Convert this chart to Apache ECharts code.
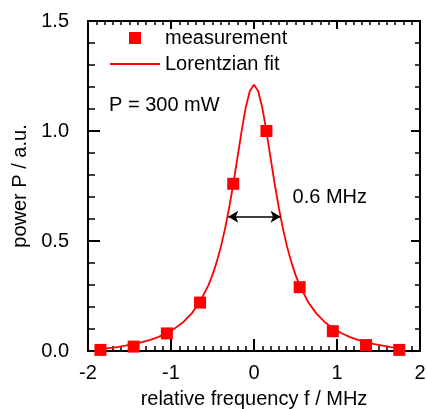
<!DOCTYPE html>
<html>
<head>
<meta charset="utf-8">
<script src="https://cdn.jsdelivr.net/npm/echarts@6/dist/echarts.min.js"></script>
<style>
  html, body { margin: 0; padding: 0; background: #fff; }
  #chart { width: 427px; height: 409px; }
</style>
</head>
<body>
<div id="chart"></div>
<script>
// measured points
var measX = [-1.85, -1.45, -1.05, -0.65, -0.25, 0.15, 0.55, 0.95, 1.35, 1.75];
var measY = [0.005, 0.02, 0.08, 0.22, 0.76, 1.00, 0.29, 0.09, 0.027, 0.005];

// Lorentzian fit curve
var fitX = [-1.85, -1.75, -1.65, -1.55, -1.45, -1.35, -1.25, -1.15, -1.05, -0.95, -0.85, -0.75, -0.65, -0.55,
            -0.5, -0.45, -0.4, -0.35, -0.3, -0.25, -0.2, -0.15, -0.1, -0.05, 0,
            0.05, 0.1, 0.15, 0.2, 0.25, 0.3, 0.35, 0.4, 0.45, 0.5,
            0.55, 0.65, 0.75, 0.85, 0.95, 1.05, 1.15, 1.25, 1.35, 1.45, 1.55, 1.65, 1.75, 1.8];
var fitY = [0.008, 0.013, 0.018, 0.024, 0.031, 0.040, 0.051, 0.064, 0.082, 0.104, 0.132, 0.171, 0.224, 0.298,
            0.346, 0.404, 0.472, 0.554, 0.649, 0.758, 0.877, 0.998, 1.106, 1.182, 1.21,
            1.182, 1.106, 0.998, 0.877, 0.758, 0.649, 0.554, 0.472, 0.404, 0.346,
            0.298, 0.224, 0.171, 0.132, 0.104, 0.082, 0.064, 0.051, 0.040, 0.031, 0.024, 0.018, 0.013, 0.010];

// FWHM arrow and annotations
var fwhmX = [-0.31, 0.32];
var fwhmY = 0.61;
var fwhmLabel = [0.465, 0.70];
var powerLabel = [-1.747, 1.118];

var FONT = '"Liberation Sans", Arial, Helvetica, sans-serif';
var RED = '#ff0000';

function zip(xs, ys) {
    return xs.map(function (x, i) { return [x, ys[i]]; });
}

function axisBase(extra) {
    var base = {
        type: 'value',
        splitLine: { show: false },
        axisLine: { show: true, onZero: false, lineStyle: { color: '#000', width: 2 } },
        axisTick: { show: true, inside: true, length: 12, lineStyle: { color: '#000', width: 2 } },
        minorTick: { show: true, length: 5, lineStyle: { color: '#000', width: 1.5 } },
        axisLabel: { color: '#000', fontSize: 20, fontFamily: FONT }
    };
    return Object.assign(base, extra);
}

var chart = echarts.init(document.getElementById('chart'));

var options = {
    animation: false,
    backgroundColor: '#fff',
    textStyle: { fontFamily: FONT },
    grid: {
        left: 88, right: 7, top: 21, bottom: 58,
        containLabel: false,
        outerBoundsMode: 'none'
    },
    legend: {
        orient: 'vertical',
        left: 109,
        top: 28,
        padding: 0,
        itemWidth: 50,
        itemHeight: 12,
        itemGap: 6,
        selectedMode: false,
        textStyle: { color: '#000', fontSize: 20, fontFamily: FONT, lineHeight: 20 },
        data: [
            { name: 'measurement', icon: 'path://M0,0L10,0L10,10L0,10Z', itemStyle: { opacity: 1 } },
            { name: 'Lorentzian fit', itemStyle: { opacity: 0, borderWidth: 0 } }
        ]
    },
    xAxis: [
        axisBase({
            min: -2, max: 2, interval: 1,
            position: 'bottom',
            minorTick: { show: true, splitNumber: 10, length: 5, lineStyle: { color: '#000', width: 1.5 } },
            axisLabel: { color: '#000', fontSize: 20, fontFamily: FONT, margin: 12 },
            name: 'relative frequency f / MHz',
            nameLocation: 'middle',
            nameGap: 38,
            nameTextStyle: { color: '#000', fontSize: 20, fontFamily: FONT }
        }),
        axisBase({
            min: -2, max: 2, interval: 1,
            position: 'top',
            axisTick: { show: true, inside: true, length: 8, lineStyle: { color: '#000', width: 2 } },
            minorTick: { show: true, splitNumber: 10, length: 4, lineStyle: { color: '#000', width: 1.5 } },
            axisLabel: { show: false }
        })
    ],
    yAxis: [
        axisBase({
            min: 0, max: 1.5, interval: 0.5,
            position: 'left',
            minorTick: { show: true, splitNumber: 5, length: 7, lineStyle: { color: '#000', width: 1.5 } },
            axisLabel: {
                color: '#000', fontSize: 20, fontFamily: FONT, margin: 19,
                formatter: function (v) { return v.toFixed(1); }
            },
            name: 'power P / a.u.',
            nameLocation: 'middle',
            nameGap: 48,
            nameTextStyle: { color: '#000', fontSize: 20, fontFamily: FONT }
        }),
        axisBase({
            min: 0, max: 1.5, interval: 0.5,
            position: 'right',
            axisTick: { show: true, inside: true, length: 9, lineStyle: { color: '#000', width: 2 } },
            minorTick: { show: true, splitNumber: 5, length: 5, lineStyle: { color: '#000', width: 1.5 } },
            axisLabel: { show: false }
        })
    ],
    series: [
        {
            name: 'Lorentzian fit',
            type: 'line',
            data: zip(fitX, fitY),
            symbol: 'none',
            showSymbol: false,
            smooth: false,
            color: RED,
            lineStyle: { color: RED, width: 1.8 },
            z: 2,
            markLine: {
                silent: true,
                symbol: ['arrow', 'arrow'],
                symbolSize: [9, 10],
                label: { show: false },
                lineStyle: { color: '#000', width: 1.5, type: 'solid' },
                data: [[
                    { coord: [fwhmX[0], fwhmY] },
                    { coord: [fwhmX[1], fwhmY] }
                ]]
            },
            markPoint: {
                silent: true,
                symbol: 'circle',
                symbolSize: 0,
                data: [
                    {
                        coord: fwhmLabel,
                        label: {
                            show: true, position: 'right', distance: 0,
                            formatter: '0.6 MHz', color: '#000', fontSize: 20, fontFamily: FONT
                        }
                    },
                    {
                        coord: powerLabel,
                        label: {
                            show: true, position: 'right', distance: 0,
                            formatter: 'P = 300 mW', color: '#000', fontSize: 20, fontFamily: FONT
                        }
                    }
                ]
            }
        },
        {
            name: 'measurement',
            type: 'scatter',
            data: zip(measX, measY),
            symbol: 'rect',
            symbolSize: 12,
            color: RED,
            itemStyle: { color: RED, opacity: 1 },
            z: 3
        }
    ]
};

chart.setOption(options);
</script>
</body>
</html>
